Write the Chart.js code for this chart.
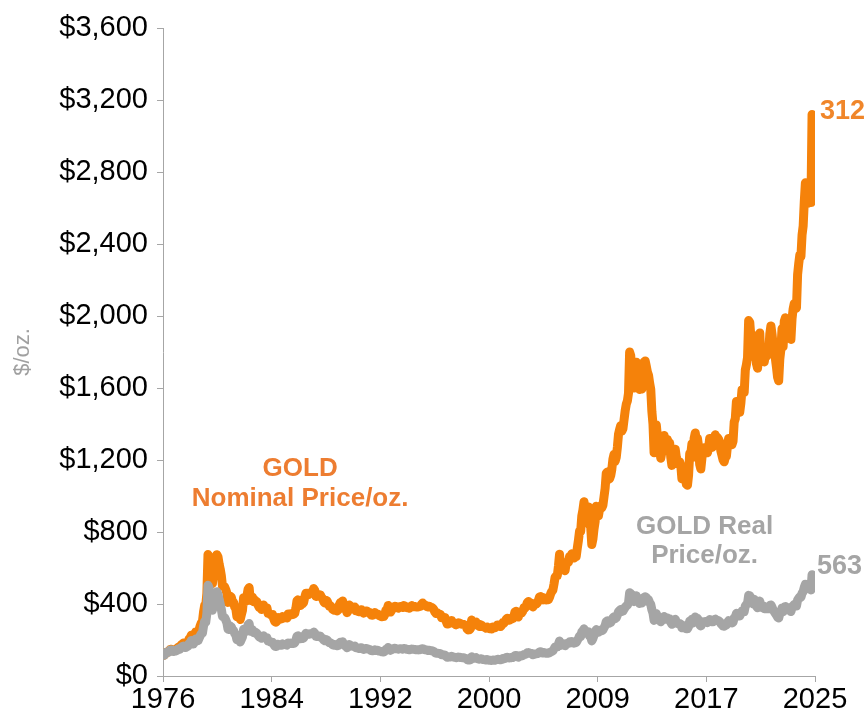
<!DOCTYPE html>
<html lang="en">

<head>
   <meta charset="UTF-8">
   <title>Gold Nominal vs Real Price</title>
   <style>
      body {
         margin: 0;
         background-color: #ffffff;
      }

      #goldChart {
         display: block;
      }
   </style>
</head>

<body>
   <canvas id="goldChart" width="865" height="718"></canvas>

   <script src="https://cdn.jsdelivr.net/npm/chart.js"></script>
   <script>
      // monthly series, first value = Sep 1976
      const firstMonth = 1976 + 8 / 12;

      const nominal = [
         114, 117, 130, 133,
         132, 136, 148, 149, 147, 141, 143, 145, 149, 158, 162, 161,
         173, 178, 183, 175, 176, 183, 188, 206, 212, 227, 207, 208,
         227, 245, 242, 239, 257, 279, 295, 301, 355, 392, 392, 459,
         675, 665, 553, 517, 513, 600, 645, 627, 674, 661, 623, 594,
         557, 500, 499, 495, 480, 460, 409, 411, 443, 437, 413, 410,
         384, 374, 330, 350, 333, 314, 340, 364, 435, 422, 415, 444,
         481, 491, 420, 432, 438, 413, 422, 416, 412, 394, 381, 388,
         370, 386, 394, 381, 377, 378, 348, 348, 341, 340, 341, 320,
         303, 299, 304, 325, 316, 317, 317, 330, 323, 326, 325, 322,
         345, 339, 346, 340, 342, 343, 348, 376, 418, 423, 398, 391,
         408, 401, 409, 438, 460, 449, 451, 461, 460, 465, 467, 486,
         476, 442, 443, 451, 452, 451, 437, 431, 413, 406, 420, 418,
         404, 388, 390, 384, 371, 367, 375, 365, 361, 366, 394, 409,
         410, 417, 394, 374, 369, 352, 362, 395, 389, 381, 381, 377,
         383, 363, 364, 358, 357, 367, 368, 356, 349, 359, 361, 361,
         354, 354, 345, 338, 337, 341, 353, 343, 345, 344, 335, 334,
         329, 330, 330, 342, 367, 371, 392, 378, 355, 364, 374, 383,
         387, 382, 384, 377, 381, 386, 385, 380, 392, 389, 384, 379,
         379, 377, 382, 391, 385, 387, 386, 383, 383, 383, 386, 387,
         399, 405, 396, 393, 392, 385, 383, 387, 383, 381, 378, 369,
         355, 347, 352, 344, 344, 341, 324, 324, 323, 325, 306, 289,
         289, 297, 296, 308, 299, 292, 293, 284, 289, 296, 294, 291,
         287, 287, 286, 282, 277, 261, 256, 257, 264, 311, 293, 283,
         284, 300, 286, 280, 275, 285, 282, 274, 273, 270, 266, 272,
         266, 262, 263, 261, 272, 270, 268, 273, 283, 283, 276, 275,
         282, 296, 294, 303, 314, 321, 314, 310, 319, 317, 319, 333,
         357, 359, 340, 328, 355, 356, 351, 360, 379, 378, 389, 407,
         414, 405, 406, 404, 384, 392, 398, 400, 406, 420, 439, 442,
         424, 423, 434, 429, 422, 430, 424, 437, 456, 470, 476, 510,
         549, 555, 557, 610, 676, 596, 633, 632, 598, 585, 627, 629,
         631, 664, 655, 679, 667, 655, 665, 665, 712, 754, 806, 803,
         889, 922, 968, 909, 888, 889, 939, 839, 829, 730, 760, 816,
         858, 943, 924, 890, 928, 945, 934, 949, 996, 1043, 1127, 1134,
         1118, 1095, 1113, 1148, 1205, 1232, 1193, 1215, 1271, 1343, 1370, 1391,
         1360, 1374, 1424, 1473, 1510, 1529, 1572, 1800, 1780, 1665, 1739, 1600,
         1656, 1743, 1675, 1649, 1591, 1598, 1594, 1630, 1744, 1750, 1721, 1688,
         1671, 1627, 1593, 1470, 1400, 1240, 1310, 1395, 1330, 1325, 1255, 1210,
         1244, 1300, 1336, 1299, 1287, 1315, 1285, 1295, 1215, 1170, 1180, 1200,
         1260, 1215, 1180, 1180, 1190, 1170, 1095, 1135, 1115, 1140, 1065, 1060,
         1115, 1235, 1235, 1290, 1215, 1320, 1350, 1310, 1320, 1275, 1175, 1150,
         1210, 1255, 1245, 1270, 1270, 1240, 1270, 1320, 1280, 1270, 1275, 1300,
         1340, 1320, 1325, 1315, 1300, 1250, 1225, 1200, 1190, 1215, 1220, 1280,
         1320, 1315, 1295, 1285, 1305, 1410, 1430, 1525, 1485, 1510, 1465, 1515,
         1590, 1585, 1575, 1700, 1730, 1770, 1975, 1965, 1885, 1880, 1775, 1890,
         1850, 1735, 1710, 1770, 1905, 1765, 1815, 1815, 1745, 1780, 1775, 1805,
         1795, 1900, 1945, 1900, 1840, 1810, 1765, 1715, 1660, 1640, 1760, 1815,
         1930, 1830, 1970, 1990, 1965, 1915, 1965, 1940, 1870, 1985, 2040, 2070,
         2040, 2045, 2230, 2290, 2340, 2330, 2450, 2500, 2635, 2740, 2650, 2625,
         2740, 2740, 2630, 3120
      ];

      const real = [
         114, 117, 130, 133,
         131, 134, 145, 145, 143, 136, 138, 139, 142, 150, 153, 150,
         160, 163, 166, 158, 158, 163, 166, 181, 185, 197, 178, 178,
         192, 206, 202, 196, 209, 224, 235, 237, 277, 304, 299, 348,
         504, 489, 401, 372, 365, 423, 454, 438, 468, 454, 424, 399,
         371, 331, 328, 324, 311, 295, 260, 258, 277, 272, 257, 253,
         236, 229, 202, 214, 202, 189, 203, 217, 259, 250, 247, 264,
         285, 291, 249, 254, 256, 241, 245, 241, 237, 226, 218, 222,
         210, 219, 223, 215, 212, 212, 194, 194, 189, 188, 188, 177,
         166, 164, 166, 177, 172, 172, 171, 178, 174, 175, 174, 171,
         183, 179, 183, 180, 181, 181, 184, 199, 221, 224, 210, 207,
         214, 209, 212, 226, 237, 230, 231, 235, 233, 235, 235, 244,
         238, 220, 219, 222, 222, 221, 213, 209, 200, 196, 202, 200,
         193, 185, 185, 181, 174, 171, 175, 170, 168, 169, 182, 188,
         187, 190, 178, 169, 166, 157, 161, 175, 171, 166, 166, 164,
         166, 157, 157, 154, 153, 157, 157, 152, 148, 152, 153, 152,
         149, 148, 144, 141, 140, 142, 146, 142, 143, 142, 138, 137,
         135, 134, 134, 138, 148, 150, 158, 152, 143, 146, 150, 153,
         154, 152, 152, 149, 151, 152, 151, 149, 153, 152, 150, 148,
         147, 146, 147, 150, 148, 148, 147, 146, 146, 145, 146, 147,
         151, 152, 148, 146, 146, 143, 142, 143, 141, 140, 139, 136,
         130, 127, 128, 125, 125, 124, 118, 118, 117, 117, 110, 104,
         104, 107, 106, 110, 107, 104, 104, 101, 103, 105, 104, 103,
         102, 101, 101, 99, 97, 91, 89, 89, 91, 107, 101, 98,
         98, 102, 97, 95, 93, 96, 95, 92, 91, 90, 89, 91,
         88, 87, 87, 86, 89, 88, 88, 90, 92, 93, 90, 90,
         92, 97, 96, 98, 102, 104, 102, 100, 103, 102, 103, 107,
         114, 114, 108, 104, 113, 113, 111, 114, 119, 119, 123, 129,
         130, 127, 126, 125, 118, 120, 122, 123, 124, 128, 134, 135,
         129, 128, 130, 128, 126, 128, 126, 129, 133, 136, 140, 150,
         161, 162, 162, 176, 194, 170, 180, 180, 171, 168, 181, 181,
         181, 189, 185, 191, 186, 182, 185, 186, 198, 209, 222, 221,
         244, 251, 262, 244, 237, 235, 246, 221, 219, 195, 208, 226,
         236, 258, 252, 243, 252, 255, 252, 256, 268, 280, 303, 306,
         300, 294, 298, 307, 322, 329, 319, 324, 339, 357, 364, 369,
         359, 361, 371, 382, 389, 394, 405, 463, 458, 429, 448, 413,
         426, 446, 425, 416, 403, 406, 406, 412, 438, 440, 436, 428,
         423, 408, 398, 368, 350, 309, 327, 347, 331, 330, 314, 302,
         310, 323, 330, 320, 316, 322, 315, 318, 298, 287, 291, 298,
         315, 302, 292, 291, 292, 287, 268, 278, 274, 280, 262, 262,
         275, 304, 303, 315, 295, 320, 328, 318, 320, 308, 285, 278,
         291, 301, 298, 303, 303, 296, 303, 314, 303, 301, 301, 308,
         316, 310, 310, 307, 302, 291, 284, 278, 276, 281, 284, 298,
         307, 304, 298, 295, 299, 323, 326, 348, 339, 344, 334, 346,
         361, 359, 358, 389, 397, 404, 448, 445, 426, 424, 401, 426,
         415, 387, 379, 389, 416, 382, 391, 390, 374, 378, 374, 378,
         373, 391, 395, 383, 367, 357, 348, 338, 327, 322, 346, 358,
         378, 357, 383, 386, 380, 370, 379, 372, 358, 380, 391, 397,
         389, 389, 422, 431, 440, 438, 460, 469, 493, 510, 493, 489,
         504, 501, 478, 563
      ];

      const xTickLabels = ['1976', '1984', '1992', '2000', '2009', '2017', '2025'];
      const xMin = 1976.63;
      const xMax = 2025.47;

      const toPoints = arr => arr.map((v, i) => ({ x: firstMonth + i / 12, y: v }));

      const orangeLine = '#F5820A';
      const grayLine = '#A5A5A5';
      const axisGray = '#A6A6A6';
      const fontFamily = "'Liberation Sans', Arial, sans-serif";

      // text labels, anchored in data units
      const notes = [
         { lines: ['GOLD', 'Nominal Price/oz.'], x: 1986.9, y: [1150, 983], color: '#ED7D31' },
         { lines: ['GOLD Real', 'Price/oz.'], x: 2017.2, y: [827, 667], color: '#A5A5A5' }
      ];

      const labelPlugin = {
         id: 'labelPlugin',
         afterDatasetsDraw(chart) {
            const c = chart.ctx;
            const xs = chart.scales.x;
            const ys = chart.scales.y;
            c.save();
            c.font = 'bold 26px ' + fontFamily;
            c.textBaseline = 'middle';
            c.textAlign = 'center';
            notes.forEach(n => {
               c.fillStyle = n.color;
               n.lines.forEach((t, k) => {
                  c.fillText(t, xs.getPixelForValue(n.x), ys.getPixelForValue(n.y[k]));
               });
            });
            // end-of-line values
            c.font = 'bold 27px ' + fontFamily;
            c.textAlign = 'left';
            const ends = [
               { arr: nominal, color: '#F0862A', dx: 8, dy: -3 },
               { arr: real, color: '#A5A5A5', dx: 5, dy: -8 }
            ];
            ends.forEach(e => {
               const last = e.arr.length - 1;
               const px = xs.getPixelForValue(firstMonth + last / 12);
               const py = ys.getPixelForValue(e.arr[last]);
               c.fillStyle = e.color;
               c.fillText(String(e.arr[last]), px + e.dx, py + e.dy);
            });
            c.restore();
         }
      };

      const ctx = document.getElementById('goldChart').getContext('2d');

      const goldChart = new Chart(ctx, {
         type: 'line',
         data: {
            datasets: [
               {
                  label: 'GOLD Nominal Price/oz.',
                  data: toPoints(nominal),
                  borderColor: orangeLine,
                  borderWidth: 9,
                  pointRadius: 0,
                  tension: 0,
                  borderCapStyle: 'round',
                  borderJoinStyle: 'round',
                  order: 1
               },
               {
                  label: 'GOLD Real Price/oz.',
                  data: toPoints(real),
                  borderColor: grayLine,
                  borderWidth: 9,
                  pointRadius: 0,
                  tension: 0,
                  borderCapStyle: 'round',
                  borderJoinStyle: 'round',
                  order: 0
               }
            ]
         },
         options: {
            responsive: false,
            animation: false,
            layout: {
               padding: { top: 28, right: 50, bottom: 0, left: 0 }
            },
            scales: {
               x: {
                  type: 'linear',
                  min: xMin,
                  max: xMax,
                  afterBuildTicks: scale => {
                     const step = (xMax - xMin) / (xTickLabels.length - 1);
                     scale.ticks = xTickLabels.map((_, i) => ({ value: xMin + i * step }));
                  },
                  afterFit: scale => { scale.height = 42; },
                  ticks: {
                     autoSkip: false,
                     maxRotation: 0,
                     padding: 1,
                     color: '#000',
                     font: { family: fontFamily, size: 29 },
                     callback: (value, index) => xTickLabels[index]
                  },
                  grid: {
                     drawOnChartArea: false,
                     tickLength: 6,
                     color: axisGray
                  },
                  border: { color: axisGray }
               },
               y: {
                  min: 0,
                  max: 3600,
                  afterFit: scale => { scale.width = 163; },
                  ticks: {
                     stepSize: 400,
                     padding: 9,
                     color: '#000',
                     font: { family: fontFamily, size: 29 },
                     callback: value => '$' + value.toLocaleString('en-US')
                  },
                  grid: {
                     drawOnChartArea: false,
                     tickLength: 6,
                     color: axisGray
                  },
                  border: { color: axisGray },
                  title: {
                     display: true,
                     text: '$/oz.',
                     color: '#A0A0A0',
                     font: { family: "'Liberation Sans Narrow', 'Liberation Sans', sans-serif", size: 22 },
                     padding: { top: 10, bottom: 0 }
                  }
               }
            },
            plugins: {
               legend: { display: false },
               tooltip: { enabled: false }
            }
         },
         plugins: [labelPlugin]
      });
   </script>
</body>

</html>
